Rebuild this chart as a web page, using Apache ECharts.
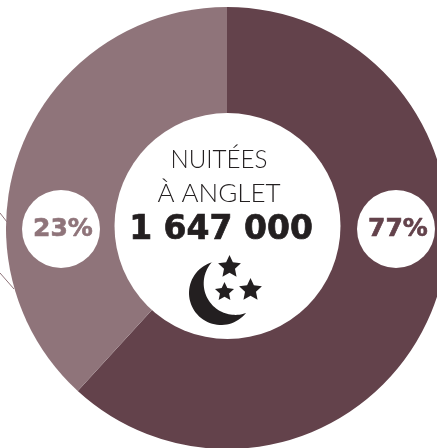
<!DOCTYPE html>
<html><head><meta charset="utf-8">
<style>html,body{margin:0;padding:0;background:#fff}#c{width:437px;height:448px}</style>
<script src="https://cdn.jsdelivr.net/npm/echarts@6/dist/echarts.min.js"></script>
</head><body><div id="c"></div>
<script>
const sliceNames = ['Part A', 'Part B'];
const sliceShares = [61.8, 38.2];
const sliceColors = ['#63424b', '#8f747a'];
const percentLabels = ['77%', '23%'];
const titleLines = ['NUITÉES', 'À ANGLET'];
const totalLabel = '1 647 000';

const chart = echarts.init(document.getElementById('c'), null, {renderer:'canvas'});
function star(cx, cy, r) {
  const pts = [];
  for (let i = 0; i < 10; i++) {
    const a = -Math.PI / 2 + i * Math.PI / 5, q = i % 2 ? r * 0.48 : r;
    pts.push([cx + q * Math.cos(a), cy + q * Math.sin(a)]);
  }
  return {type:'polygon', z:10, shape:{points:pts}, style:{fill:'#231f20'}};
}
function arc(cx, cy, r, a0, a1) {
  const pts = [];
  for (let i = 0; i <= 48; i++) {
    const a = (a0 + (a1 - a0) * i / 48) * Math.PI / 180;
    pts.push([cx + r * Math.cos(a), cy + r * Math.sin(a)]);
  }
  return pts;
}
function badge(cx, cy, txt, color) {
  return [
    {type:'circle', z:5, shape:{cx, cy, r:39}, style:{fill:'#fff'}},
    {type:'text', z:6, x:cx+2, y:cy, style:{text:txt, font:'bold 25px "DejaVu Sans"', fill:color, stroke:color, lineWidth:0.6, align:'center', verticalAlign:'middle'}}
  ];
}
chart.setOption({
  animation:false,
  series:[{
    type:'pie', silent:true, center:[227,228], radius:[0,221], startAngle:90, clockwise:true,
    label:{show:false}, labelLine:{show:false},
    data:sliceNames.map((n,i)=>({name:n,value:sliceShares[i],itemStyle:{color:sliceColors[i]}}))
  }],
  graphic:[
    {type:'line', z:1, shape:{x1:0,y1:213,x2:7,y2:222}, style:{stroke:'#8f747a',lineWidth:1}},
    {type:'line', z:1, shape:{x1:0,y1:273,x2:14,y2:289}, style:{stroke:'#8f747a',lineWidth:1}},
    {type:'circle', z:5, shape:{cx:227.5,cy:226,r:113}, style:{fill:'#fff'}},
    ...badge(396,229,percentLabels[0],sliceColors[0]),
    ...badge(61,229,percentLabels[1],sliceColors[1]),
    {type:'text', z:6, x:219, y:160, scaleX:0.93, style:{text:titleLines[0], font:'300 26px Lato', fill:'#231f20', align:'center', verticalAlign:'middle'}},
    {type:'text', z:6, x:219, y:194, style:{text:titleLines[1], font:'300 26px Lato', fill:'#231f20', align:'center', verticalAlign:'middle'}},
    {type:'text', z:6, x:221, y:230, style:{text:totalLabel, font:'bold 33px "DejaVu Sans"', fill:'#231f20', stroke:'#231f20', lineWidth:0.7, align:'center', verticalAlign:'middle'}},
    {type:'polygon', z:10, shape:{points:arc(221,293,32,254,39).concat(arc(235.2,283.4,31.5,70,223))}, style:{fill:'#231f20'}},
    star(229.5,267,12), star(250.5,290,12), star(224.5,292,10)
  ]
});
</script></body></html>
